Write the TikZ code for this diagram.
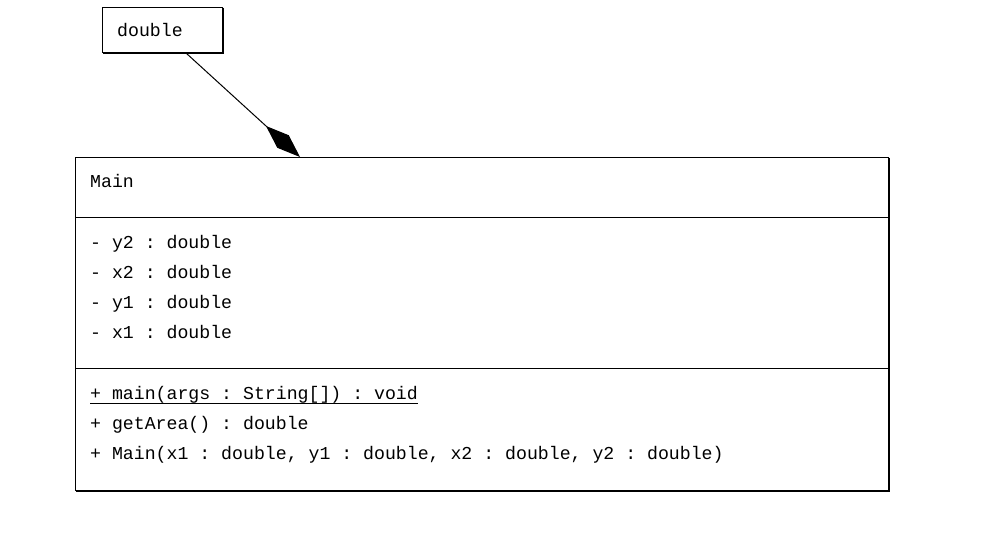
\documentclass[tikz,border=0pt]{standalone}
\usepackage{fontspec}
\setmonofont{Liberation Mono}
\usetikzlibrary{arrows.meta,calc}
\tikzset{
  umltext/.style={anchor=base west, inner sep=0pt, font=\ttfamily\fontsize{18.2}{20}\selectfont},
  boxline/.style={draw=black, line width=1pt},
  shadowline/.style={draw=black, line width=1.3pt},
  compo/.style={draw=black, line width=1pt, -{Diamond[length=46pt,width=17pt,fill=black]}}
}
\begin{document}
\begin{tikzpicture}[x=1pt,y=-1pt]
\useasboundingbox[fill=white] (0,0) rectangle (982,550);
% double box
\node[boxline, rectangle, minimum width=120pt, minimum height=45pt, inner sep=0pt, anchor=north west] (dbl) at (102,7) {};
\draw[shadowline] ($(dbl.north east)+(0.6,0.6)$) -- ($(dbl.south east)+(0.6,0.6)$) -- ($(dbl.south west)+(0.6,0.6)$);
\node[umltext] (dbltxt) at (117,36) {double};
% main box
\node[boxline, rectangle, minimum width=813pt, minimum height=333pt, inner sep=0pt, anchor=north west] (main) at (75,157) {};
\draw[shadowline] ($(main.north east)+(0.6,0.6)$) -- ($(main.south east)+(0.6,0.6)$) -- ($(main.south west)+(0.6,0.6)$);
\coordinate (sep1l) at ($(main.north west)+(0,60)$);
\coordinate (sep1r) at ($(main.north east)+(0,60)$);
\coordinate (sep2l) at ($(main.north west)+(0,211)$);
\coordinate (sep2r) at ($(main.north east)+(0,211)$);
\draw[boxline] (sep1l) -- (sep1r);
\draw[boxline] (sep2l) -- (sep2r);
\node[umltext] (name) at (90,187) {Main};
\node[umltext] (a1) at (90,248) {- y2 : double};
\node[umltext] (a2) at (90,278) {- x2 : double};
\node[umltext] (a3) at (90,308) {- y1 : double};
\node[umltext] (a4) at (90,338) {- x1 : double};
\node[umltext] (m1) at (90,399) {+ main(args : String[]) : void};
\draw[line width=0.8pt] ($(m1.base west)+(0,4)$) -- ($(m1.base east)+(0,4)$);
\node[umltext] (m2) at (90,429) {+ getArea() : double};
\node[umltext] (m3) at (90,459) {+ Main(x1 : double, y1 : double, x2 : double, y2 : double)};
% composition
\coordinate (cstart) at ($(dbl.south west)+(84,0)$);
\coordinate (cend) at ($(main.north west)+(225,0)$);
\draw[compo] (cstart) -- (cend);
\end{tikzpicture}
\end{document}
